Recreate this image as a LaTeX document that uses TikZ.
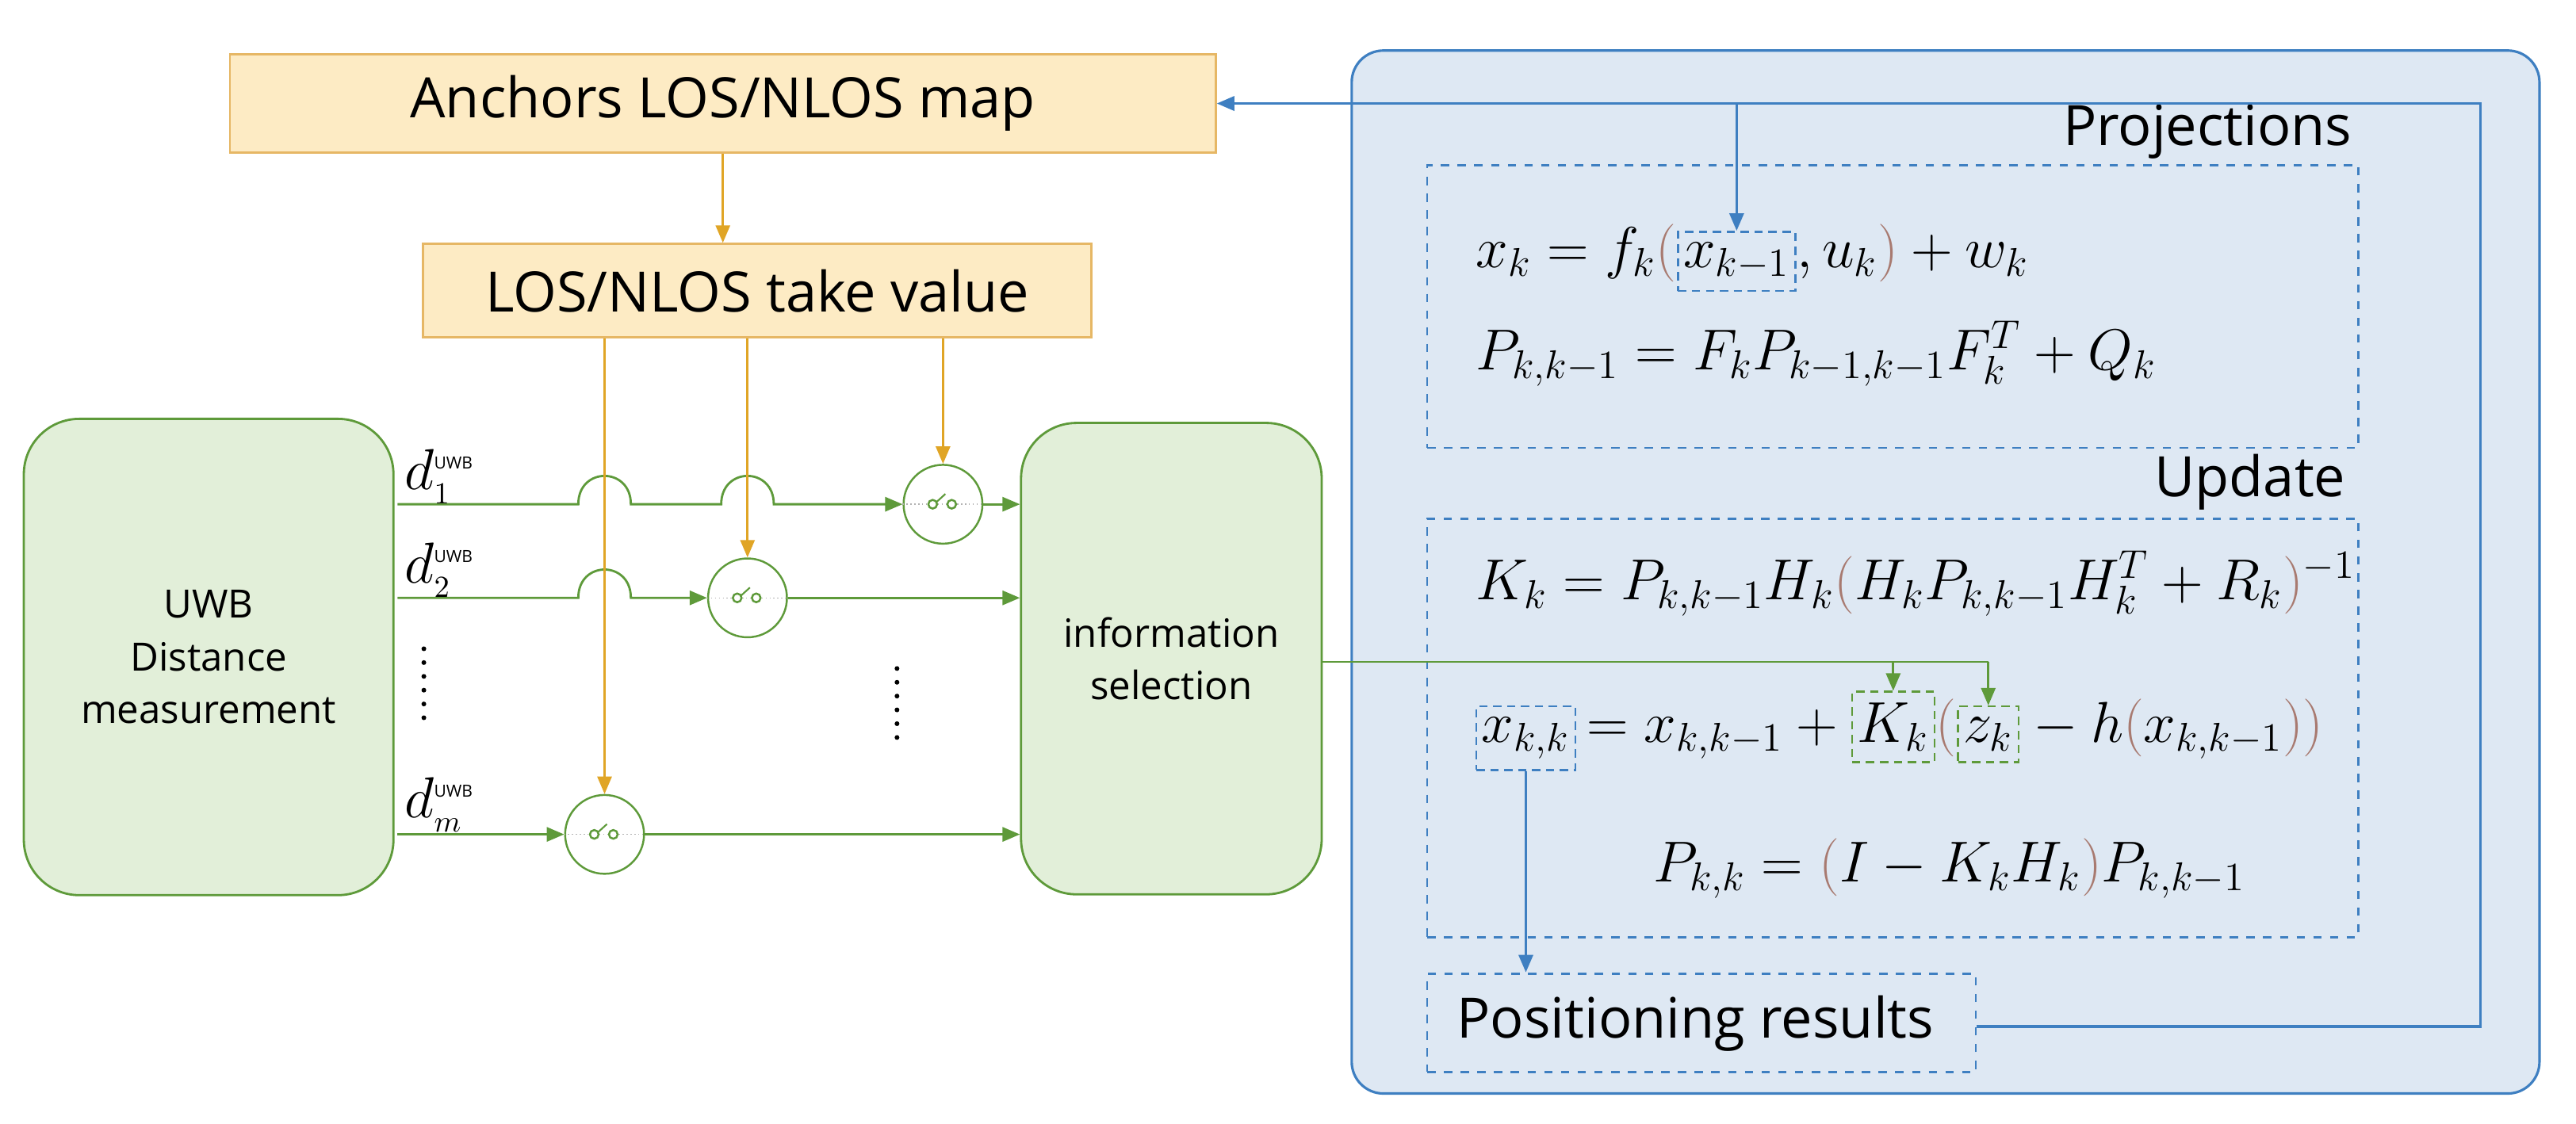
\documentclass[tikz,border=0pt]{standalone}
\usepackage{fontspec}
\setmainfont{Open Sans}
\usetikzlibrary{arrows.meta}
\definecolor{ylw}{HTML}{E0A526}
\definecolor{ylwfill}{HTML}{FDEBC4}
\definecolor{ylwdraw}{HTML}{E6B765}
\definecolor{grn}{HTML}{5E9A3A}
\definecolor{grnfill}{HTML}{E2EFD9}
\definecolor{blu}{HTML}{3E7FC1}
\definecolor{blufill}{HTML}{DEE8F3}
\definecolor{brn}{HTML}{A87A70}
\newcommand{\bp}[1]{{\color{brn}#1}}
\newcommand{\uwbsup}{\hbox{\fontsize{6}{7}\selectfont UWB}}
\begin{document}
\begin{tikzpicture}[x=0.2072mm,y=-0.2072mm,
  ybox/.style={draw=ylwdraw,fill=ylwfill,line width=0.8pt,font=\fontsize{20}{24}\selectfont},
  gbox/.style={draw=grn,fill=grnfill,rounded corners=7mm,line width=0.8pt,align=center,font=\fontsize{14}{19}\selectfont},
  sw/.style={circle,draw=grn,fill=white,line width=0.7pt,minimum size=48*0.2072mm,inner sep=0pt},
  yar/.style={draw=ylw,line width=0.8pt,-{Triangle[length=2.2mm,width=1.8mm]}},
  gar/.style={draw=grn,line width=0.8pt,-{Triangle[length=2.2mm,width=1.8mm]}},
  bar/.style={draw=blu,line width=0.9pt,-{Triangle[length=2.2mm,width=1.8mm]}},
  dbox/.style={draw=blu,dashed,line width=0.8pt},
  eq/.style={font=\fontsize{21}{25}\selectfont,inner sep=0pt},
  ib/.style={eq,draw=#1,densely dashed,line width=0.7pt,inner xsep=2pt,inner ysep=4pt},
  lab/.style={font=\fontsize{20}{24}\selectfont,inner sep=0pt},
  dl/.style={font=\fontsize{22}{24}\selectfont,inner sep=0pt}
]
\useasboundingbox (0,0) rectangle (1568,684);
% right panel
\node[draw=blu,fill=blufill,rounded corners=4mm,line width=0.9pt,minimum width=723*0.2072mm,minimum height=635*0.2072mm,anchor=north west,inner sep=0pt] (panel) at (822,30) {};
\node[dbox,minimum width=567*0.2072mm,minimum height=172*0.2072mm,anchor=north west,inner sep=0pt] (proj) at (868,100) {};
\node[dbox,minimum width=567*0.2072mm,minimum height=255*0.2072mm,anchor=north west,inner sep=0pt] (upd) at (868,315) {};
\node[lab,anchor=south east] (projlab) at (1432,97) {Projections};
\node[lab,anchor=south east] (updlab) at (1428,311) {Update};
\node[dbox,minimum width=334*0.2072mm,minimum height=60*0.2072mm,anchor=north west,inner sep=0pt] (pos) at (868,592) {};
\node[lab] (postxt) at (1032,623) {Positioning results};

% left boxes
\node[ybox,minimum width=600*0.2072mm,minimum height=60*0.2072mm] (anch) at (440,63) {Anchors LOS/NLOS map};
\node[ybox,minimum width=407*0.2072mm,minimum height=57*0.2072mm] (los) at (461,177) {LOS/NLOS take value};
\node[gbox,minimum width=225*0.2072mm,minimum height=290*0.2072mm] (uwb) at (127,400) {UWB\\Distance\\measurement};
\node[gbox,minimum width=183*0.2072mm,minimum height=287*0.2072mm] (info) at (713,401) {information\\selection};

% switches
\foreach \n/\x/\y in {s1/574/307,s2/455/364,sm/368/508}{
  \node[sw] (\n) at (\x,\y) {};
  \draw[gray!60,densely dotted,line width=0.4pt] (\n.west) -- (\n.east);
  \draw[grn,line width=0.7pt,fill=white] ([xshift=-1.3mm]\n.center) circle[radius=0.55mm];
  \draw[grn,line width=0.7pt,fill=white] ([xshift=1.1mm]\n.center) circle[radius=0.55mm];
  \draw[grn,line width=0.6pt] ([xshift=-0.8mm,yshift=0.3mm]\n.center) -- ([xshift=0.3mm,yshift=1.3mm]\n.center);
}
\coordinate (r1) at (242,307);
\coordinate (r2) at (242,364);
\coordinate (rm) at (242,508);
% rows
\draw[gar] (r1) -- (352,307) .. controls (352,284) and (384,284) .. (384,307) -- (439,307) .. controls (439,284) and (471,284) .. (471,307) -- (s1.west);
\draw[gar] (s1.east) -- (s1 -| info.west);
\draw[gar] (r2) -- (352,364) .. controls (352,341) and (384,341) .. (384,364) -- (s2.west);
\draw[gar] (s2.east) -- (s2 -| info.west);
\draw[gar] (rm) -- (sm.west);
\draw[gar] (sm.east) -- (sm -| info.west);
% yellow
\draw[yar] (anch.south) -- (anch.south |- los.north);
\draw[yar] (s1 |- los.south) -- (s1.north);
\draw[yar] (s2 |- los.south) -- (s2.north);
\draw[yar] (sm |- los.south) -- (sm.north);
% dots
\foreach \y in {0,1,2,3,4,5}{
  \fill (258,395+\y*8.4) circle[radius=0.3mm];
  \fill (546,407+\y*8.4) circle[radius=0.3mm];
}
% d labels
\node[dl,anchor=base west] (d1) at (246,298) {$d_{\scriptscriptstyle 1}^{\uwbsup}$};
\node[dl,anchor=base west] (d2) at (246,355) {$d_{\scriptscriptstyle 2}^{\uwbsup}$};
\node[dl,anchor=base west] (dm) at (246,498) {$d_{\scriptscriptstyle m}^{\uwbsup}$};

% equations
\node[eq,anchor=base west] (e1a) at (898,163) {$x_k=f_k\bp{(}$};
\node[ib=blu,anchor=base west] (e1b) at (e1a.base east) {$x_{k-1}$};
\node[eq,anchor=base west] (e1c) at (e1b.base east) {$,u_k\bp{)}+w_k$};
\node[eq,anchor=base west] (e2) at (898,225) {$P_{k,k-1}=F_kP_{k-1,k-1}F_k^T+Q_k$};
\node[eq,anchor=base west] (e3) at (898,365) {$K_k=P_{k,k-1}H_k\bp{\bigl(}H_kP_{k,k-1}H_k^T+R_k\bp{\bigr)}^{-1}$};
\node[ib=blu,anchor=base west] (e4a) at (898,452) {$x_{k,k}$};
\node[eq,anchor=base west] (e4b) at (e4a.base east) {$\,=x_{k,k-1}+{}$};
\node[ib=grn,anchor=base west] (e4c) at (e4b.base east) {$K_k$};
\node[eq,anchor=base west] (e4d) at (e4c.base east) {$\bp{\bigl(}$};
\node[ib=grn,anchor=base west] (e4e) at (e4d.base east) {$z_k$};
\node[eq,anchor=base west] (e4f) at (e4e.base east) {${}-h\bp{(}x_{k,k-1}\bp{)}\bp{\bigr)}$};
\node[eq,anchor=base west] (e5) at (1006,537) {$P_{k,k}=\bp{(}I-K_kH_k\bp{)}P_{k,k-1}$};

% blue feedback
\coordinate (fb1) at (1510,625);
\coordinate (fb2) at (1510,63);
\draw[bar] (pos.east |- fb1) -- (fb1) -- (fb2) -- (anch.east);
\draw[bar] (e1b.north |- fb2) -- (e1b.north);
\draw[bar] (e4a.south) -- (e4a.south |- pos.north);
% green to update
\coordinate (g) at (e4e.north |- 0,403);
\draw[grn,line width=0.8pt] (info.east |- g) -- (g);
\draw[gar] (g) -- (e4e.north);
\draw[gar] (e4c.north |- g) -- (e4c.north);
\end{tikzpicture}
\end{document}
